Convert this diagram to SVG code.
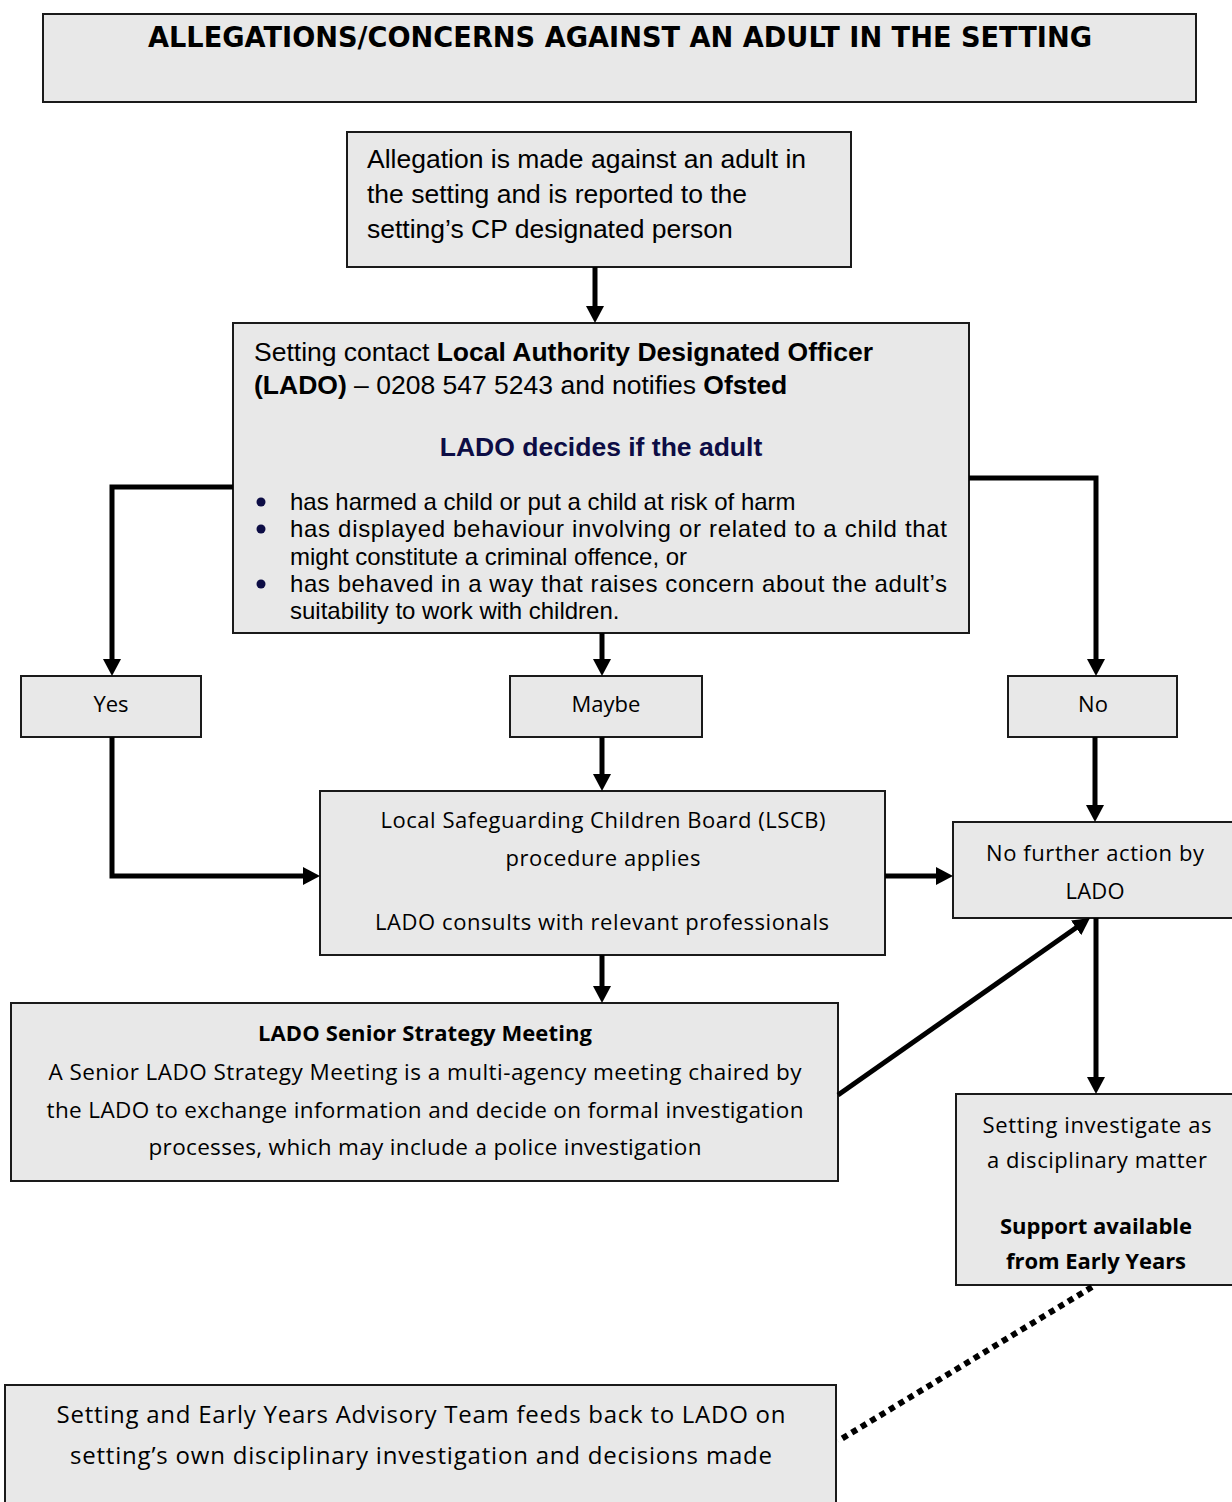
<svg xmlns="http://www.w3.org/2000/svg" width="1232" height="1502" viewBox="0 0 1232 1502">
<style>
.box{fill:#e8e8e8;stroke:#1a1a1a;stroke-width:2}
.c{fill:none;stroke:#000;stroke-width:5;marker-end:url(#ah)}
.ar{font-family:"Liberation Sans",Arial,sans-serif;fill:#000}
.cal{font-family:"Open Sans","Noto Sans",sans-serif;font-size:22px;fill:#000;text-anchor:middle}
.cal.big{font-size:24px}
.cal.mid{font-size:22.5px}
.b{font-weight:bold}
.navy{fill:#0d0d45}
</style>
<defs>
<marker id="ah" markerUnits="userSpaceOnUse" markerWidth="17" markerHeight="18" refX="7" refY="9" orient="auto">
<path d="M0,0 L17,9 L0,18 z" fill="#000"/>
</marker>
</defs>
<rect width="1232" height="1502" fill="#fff"/>

<g id="title">
<rect class="box" x="43" y="14" width="1153" height="88"/>
<text x="620" y="47" font-family="'DejaVu Sans',Verdana,sans-serif" font-weight="bold" font-size="29" text-anchor="middle" textLength="944" lengthAdjust="spacingAndGlyphs">ALLEGATIONS/CONCERNS AGAINST AN ADULT IN THE SETTING</text>
</g>

<g id="allegation">
<rect class="box" x="347" y="132" width="504" height="135"/>
<text class="ar" font-size="26.5"><tspan x="367" y="168">Allegation is made against an adult in</tspan><tspan x="367" y="203">the setting and is reported to the</tspan><tspan x="367" y="238">setting’s CP designated person</tspan></text>
</g>

<g id="lado-decides">
<rect class="box" x="233" y="323" width="736" height="310"/>
<text class="ar" font-size="26.5" x="254" y="361">Setting contact <tspan class="b">Local Authority Designated Officer</tspan></text>
<text class="ar" font-size="26.5" x="254" y="394"><tspan class="b">(LADO)</tspan> – 0208 547 5243 and notifies <tspan class="b">Ofsted</tspan></text>
<text class="ar b navy" font-size="26.5" x="601" y="456" text-anchor="middle">LADO decides if the adult</text>
<g class="navy">
<circle cx="261" cy="502" r="4.5"/>
<circle cx="261" cy="529" r="4.5"/>
<circle cx="261" cy="584" r="4.5"/>
</g>
<text class="ar" font-size="24" x="290" y="510">has harmed a child or put a child at risk of harm</text>
<text class="ar" font-size="24" x="290" y="537" textLength="657" lengthAdjust="spacing">has displayed behaviour involving or related to a child that</text>
<text class="ar" font-size="24" x="290" y="565">might constitute a criminal offence, or</text>
<text class="ar" font-size="24" x="290" y="592" textLength="657" lengthAdjust="spacing">has behaved in a way that raises concern about the adult’s</text>
<text class="ar" font-size="24" x="290" y="619">suitability to work with children.</text>
</g>

<g id="yes">
<rect class="box" x="21" y="676" width="180" height="61"/>
<text class="cal" x="111" y="712">Yes</text>
</g>
<g id="maybe">
<rect class="box" x="510" y="676" width="192" height="61"/>
<text class="cal" x="606" y="712">Maybe</text>
</g>
<g id="no">
<rect class="box" x="1008" y="676" width="169" height="61"/>
<text class="cal" x="1093" y="712">No</text>
</g>

<g id="lscb">
<rect class="box" x="320" y="791" width="565" height="164"/>
<text class="cal" x="603" y="828" textLength="445">Local Safeguarding Children Board (LSCB)</text>
<text class="cal" x="603" y="866" textLength="195">procedure applies</text>
<text class="cal" x="602" y="930" textLength="454">LADO consults with relevant professionals</text>
</g>

<g id="no-further-action">
<rect class="box" x="953" y="822" width="290" height="96"/>
<text class="cal" x="1095" y="861" textLength="218">No further action by</text>
<text class="cal" x="1095" y="899" textLength="59">LADO</text>
</g>

<g id="strategy-meeting">
<rect class="box" x="11" y="1003" width="827" height="178"/>
<text class="cal b" x="425" y="1041" textLength="334">LADO Senior Strategy Meeting</text>
<text class="cal mid" x="425" y="1080" textLength="753">A Senior LADO Strategy Meeting is a multi-agency meeting chaired by</text>
<text class="cal mid" x="425" y="1118" textLength="757">the LADO to exchange information and decide on formal investigation</text>
<text class="cal mid" x="425" y="1155" textLength="553">processes, which may include a police investigation</text>
</g>

<g id="setting-investigate">
<rect class="box" x="956" y="1094" width="290" height="191"/>
<text class="cal" x="1097" y="1133" textLength="229">Setting investigate as</text>
<text class="cal" x="1097" y="1168" textLength="220">a disciplinary matter</text>
<text class="cal b" x="1096" y="1234" textLength="192">Support available</text>
<text class="cal b" x="1096" y="1269" textLength="180">from Early Years</text>
</g>

<g id="feedback">
<rect class="box" x="5" y="1385" width="831" height="130"/>
<text class="cal big" x="421" y="1423" textLength="729">Setting and Early Years Advisory Team feeds back to LADO on</text>
<text class="cal big" x="421" y="1464" textLength="702">setting’s own disciplinary investigation and decisions made</text>
</g>

<g id="connectors">
<path class="c" d="M595,267 V313"/>
<path class="c" d="M233,487 H112 V666"/>
<path class="c" d="M969,478 H1096 V666"/>
<path class="c" d="M602,633 V666"/>
<path class="c" d="M112,737 V876 H310"/>
<path class="c" d="M602,737 V781"/>
<path class="c" d="M1095,737 V812"/>
<path class="c" d="M885,876 H943"/>
<path class="c" d="M602,955 V993"/>
<path class="c" d="M838,1095 L1081.8,923.8"/>
<path class="c" d="M1096,918 V1084"/>
<path d="M1092,1287 L838,1441" fill="none" stroke="#000" stroke-width="6" stroke-dasharray="6 5"/>
</g>
</svg>
